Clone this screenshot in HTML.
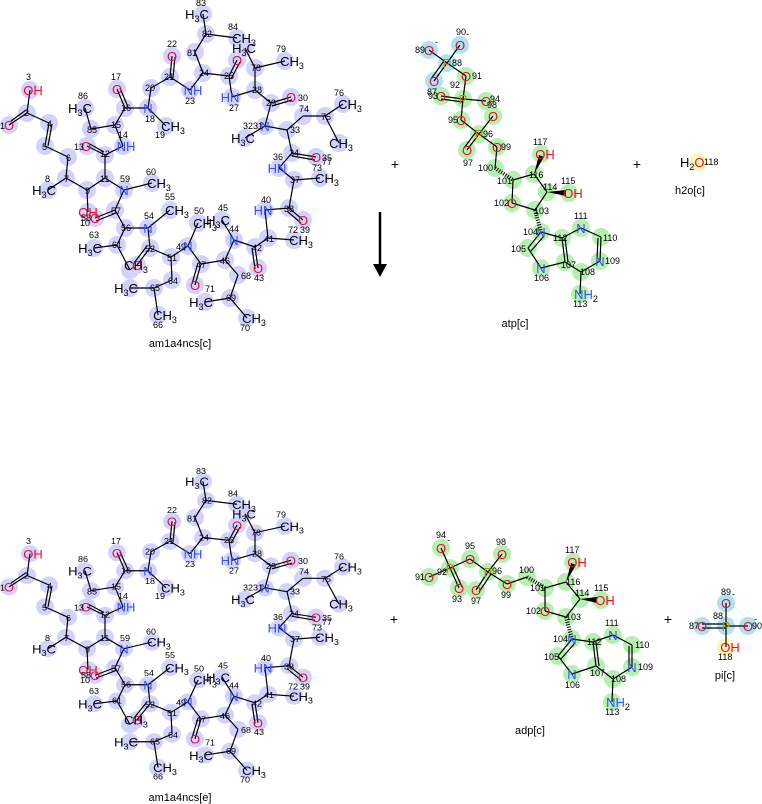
<!DOCTYPE html>
<html><head><meta charset="utf-8">
<style>
html,body{margin:0;padding:0;background:#fff;width:762px;height:804px;overflow:hidden}
svg{display:block}
text{font-family:"Liberation Sans",sans-serif}
.a{font-size:13px;text-anchor:middle}
.n{font-size:9px;fill:#000}
.N{fill:#3050f8}.O{fill:#e8102a}.P{fill:#c08800}.K{fill:#000}
.l{font-size:11px;text-anchor:middle;fill:#000}
</style></head><body>
<svg width="762" height="804" viewBox="0 0 762 804" xmlns="http://www.w3.org/2000/svg">
<g id="mol">
<g fill="#d2d2ff">
<circle cx="9" cy="125" r="9"/><circle cx="27" cy="113" r="9"/><circle cx="30" cy="90" r="9"/><circle cx="49" cy="123" r="9"/><circle cx="45" cy="146" r="9"/><circle cx="68" cy="157" r="9"/><circle cx="66" cy="178" r="9"/><circle cx="48" cy="190" r="9"/><circle cx="87" cy="190" r="9"/><circle cx="88" cy="212" r="9"/><circle cx="105" cy="178" r="9"/><circle cx="105" cy="155" r="9"/><circle cx="87" cy="146" r="9"/><circle cx="123" cy="146" r="9"/><circle cx="115" cy="125" r="9"/><circle cx="125" cy="108" r="9"/><circle cx="117" cy="89" r="9"/><circle cx="148" cy="108" r="9"/><circle cx="166" cy="126" r="9"/><circle cx="151" cy="88" r="9"/><circle cx="170" cy="77" r="9"/><circle cx="172" cy="56" r="9"/><circle cx="190" cy="90" r="9"/><circle cx="203" cy="73" r="9"/><circle cx="229" cy="76" r="9"/><circle cx="237" cy="60" r="9"/><circle cx="232" cy="97" r="9"/><circle cx="255" cy="90" r="9"/><circle cx="271" cy="103" r="9"/><circle cx="291" cy="97" r="9"/><circle cx="265" cy="126" r="9"/><circle cx="245" cy="138" r="9"/><circle cx="287" cy="130" r="9"/><circle cx="292" cy="153" r="9"/><circle cx="316" cy="157" r="9"/><circle cx="279" cy="168" r="9"/><circle cx="294" cy="180" r="9"/><circle cx="289" cy="208" r="9"/><circle cx="303" cy="220" r="9"/><circle cx="265" cy="210" r="9"/><circle cx="268" cy="238" r="9"/><circle cx="255" cy="247" r="9"/><circle cx="258" cy="268" r="9"/><circle cx="234" cy="240" r="9"/><circle cx="222" cy="220" r="9"/><circle cx="225" cy="260" r="9"/><circle cx="201" cy="264" r="9"/><circle cx="195" cy="285" r="9"/><circle cx="188" cy="246" r="9"/><circle cx="198" cy="223" r="9"/><circle cx="171" cy="257" r="9"/><circle cx="150" cy="248" r="9"/><circle cx="137" cy="265" r="9"/><circle cx="148" cy="228" r="9"/><circle cx="170" cy="210" r="9"/><circle cx="125" cy="228" r="9"/><circle cx="115" cy="210" r="9"/><circle cx="95" cy="218" r="9"/><circle cx="124" cy="190" r="9"/><circle cx="152" cy="183" r="9"/><circle cx="117" cy="245" r="9"/><circle cx="130" cy="270" r="9"/><circle cx="94" cy="248" r="9"/><circle cx="130" cy="288" r="9"/><circle cx="154" cy="288" r="9"/><circle cx="172" cy="280" r="9"/><circle cx="158" cy="315" r="9"/><circle cx="238" cy="275" r="9"/><circle cx="230" cy="298" r="9"/><circle cx="247" cy="318" r="9"/><circle cx="205" cy="302" r="9"/><circle cx="294" cy="240" r="9"/><circle cx="320" cy="178" r="9"/><circle cx="303" cy="116" r="9"/><circle cx="325" cy="116" r="9"/><circle cx="343" cy="104" r="9"/><circle cx="339" cy="143" r="9"/><circle cx="255" cy="68" r="9"/><circle cx="285" cy="61" r="9"/><circle cx="245" cy="48" r="9"/><circle cx="195" cy="52" r="9"/><circle cx="206" cy="34" r="9"/><circle cx="203" cy="14" r="9"/><circle cx="237" cy="38" r="9"/><circle cx="91" cy="129" r="9"/><circle cx="85" cy="108" r="9"/>
</g>
<path fill="none" stroke="#000" stroke-width="1.2" d="M9 125L27 113M11 121L26 110M27 113L30 90M27 113L49 123M49 123L45 146M52 124L48 146M45 146L68 157M68 157L66 178M66 178L48 190M66 178L87 190M87 190L88 212M87 190L105 178M105 178L105 155M105 155L87 146M104 152L88 143M105 155L123 146M123 146L115 125M115 125L91 129M91 129L85 108M115 125L125 108M125 108L117 89M128 107L120 88M125 108L148 108M148 108L166 126M148 108L151 88M151 88L170 77M170 77L172 56M173 78L175 57M170 77L190 90M190 90L203 73M203 73L195 52M195 52L206 34M206 34L203 14M206 34L237 38M203 73L229 76M229 76L237 60M231 79L240 62M229 76L232 97M232 97L255 90M255 90L255 68M255 68L245 48M255 68L285 61M255 90L271 103M271 103L291 97M272 106L292 100M271 103L265 126M265 126L245 138M265 126L287 130M287 130L303 116M303 116L325 116M325 116L343 104M325 116L339 143M287 130L292 153M292 153L316 157M292 156L315 160M292 153L279 168M279 168L294 180M294 180L320 178M294 180L289 208M289 208L303 220M287 211L301 223M289 208L265 210M265 210L268 238M268 238L294 240M268 238L255 247M255 247L258 268M252 248L255 269M255 247L234 240M234 240L222 220M234 240L225 260M225 260L238 275M238 275L230 298M230 298L247 318M230 298L205 302M225 260L201 264M201 264L195 285M198 263L192 284M201 264L188 246M188 246L198 223M188 246L171 257M171 257L172 280M172 280L154 288M154 288L158 315M154 288L130 288M171 257L150 248M150 248L137 265M147 246L134 263M150 248L148 228M148 228L170 210M148 228L125 228M125 228L117 245M117 245L94 248M117 245L130 270M125 228L115 210M115 210L95 218M116 213L96 221M115 210L124 190M124 190L152 183M124 190L105 178"/>
<g>
<text class="a O" x="9" y="130">O</text><text class="a O" x="33" y="95">OH</text><text class="a K" x="44" y="195">H<tspan font-size="9" dy="3">3</tspan><tspan dy="-3">C</tspan></text><text class="a O" x="88" y="217">OH</text><text class="a O" x="86" y="151">O</text><text class="a N" x="126" y="151">NH</text><text class="a O" x="117" y="94">O</text><text class="a N" x="148" y="113">N</text><text class="a K" x="173" y="131">CH<tspan font-size="9" dy="3">3</tspan></text><text class="a O" x="172" y="61">O</text><text class="a N" x="193" y="95">NH</text><text class="a O" x="237" y="65">O</text><text class="a N" x="230" y="102">HN</text><text class="a O" x="291" y="102">O</text><text class="a N" x="265" y="131">N</text><text class="a K" x="243" y="143">H<tspan font-size="9" dy="3">3</tspan><tspan dy="-3">C</tspan></text><text class="a O" x="316" y="162">O</text><text class="a N" x="277" y="173">HN</text><text class="a O" x="303" y="225">O</text><text class="a N" x="263" y="215">HN</text><text class="a O" x="258" y="273">O</text><text class="a N" x="234" y="245">N</text><text class="a K" x="218" y="225">H<tspan font-size="9" dy="3">3</tspan><tspan dy="-3">C</tspan></text><text class="a O" x="195" y="290">O</text><text class="a N" x="188" y="251">N</text><text class="a K" x="205" y="228">CH<tspan font-size="9" dy="3">3</tspan></text><text class="a O" x="137" y="270">O</text><text class="a N" x="148" y="233">N</text><text class="a K" x="177" y="215">CH<tspan font-size="9" dy="3">3</tspan></text><text class="a O" x="95" y="223">O</text><text class="a N" x="124" y="195">N</text><text class="a K" x="159" y="188">CH<tspan font-size="9" dy="3">3</tspan></text><text class="a K" x="90" y="253">H<tspan font-size="9" dy="3">3</tspan><tspan dy="-3">C</tspan></text><text class="a K" x="136" y="270">CH<tspan font-size="9" dy="3">3</tspan></text><text class="a K" x="126" y="293">H<tspan font-size="9" dy="3">3</tspan><tspan dy="-3">C</tspan></text><text class="a K" x="165" y="320">CH<tspan font-size="9" dy="3">3</tspan></text><text class="a K" x="254" y="323">CH<tspan font-size="9" dy="3">3</tspan></text><text class="a K" x="201" y="307">H<tspan font-size="9" dy="3">3</tspan><tspan dy="-3">C</tspan></text><text class="a K" x="301" y="245">CH<tspan font-size="9" dy="3">3</tspan></text><text class="a K" x="327" y="183">CH<tspan font-size="9" dy="3">3</tspan></text><text class="a K" x="350" y="109">CH<tspan font-size="9" dy="3">3</tspan></text><text class="a K" x="341" y="148">CH<tspan font-size="9" dy="3">3</tspan></text><text class="a K" x="292" y="66">CH<tspan font-size="9" dy="3">3</tspan></text><text class="a K" x="244" y="53">H<tspan font-size="9" dy="3">3</tspan><tspan dy="-3">C</tspan></text><text class="a K" x="197" y="19">H<tspan font-size="9" dy="3">3</tspan><tspan dy="-3">C</tspan></text><text class="a K" x="244" y="43">CH<tspan font-size="9" dy="3">3</tspan></text><text class="a K" x="80" y="113">H<tspan font-size="9" dy="3">3</tspan><tspan dy="-3">C</tspan></text>
</g>
<g class="n">
<text x="0" y="129">1</text><text x="24" y="116">2</text><text x="26" y="80">3</text><text x="47" y="127">4</text><text x="42" y="150">5</text><text x="66" y="161">6</text><text x="64" y="182">7</text><text x="45" y="182">8</text><text x="85" y="194">9</text><text x="80" y="226">10</text><text x="100" y="182">11</text><text x="100" y="157">12</text><text x="74" y="150">13</text><text x="118" y="138">14</text><text x="111" y="128">15</text><text x="121" y="111">16</text><text x="111" y="80">17</text><text x="145" y="122">18</text><text x="155" y="138">19</text><text x="145" y="91">20</text><text x="164" y="80">21</text><text x="167" y="47">22</text><text x="185" y="104">23</text><text x="199" y="76">24</text><text x="224" y="79">25</text><text x="229" y="111">27</text><text x="252" y="93">28</text><text x="266" y="106">29</text><text x="298" y="101">30</text><text x="243" y="129">3231</text><text x="290" y="133">33</text><text x="289" y="156">34</text><text x="322" y="161">35</text><text x="273" y="160">36</text><text x="290" y="183">37</text><text x="284" y="212">38</text><text x="300" y="233">39</text><text x="261" y="203">40</text><text x="264" y="242">41</text><text x="252" y="251">42</text><text x="254" y="281">43</text><text x="229" y="232">44</text><text x="218" y="211">45</text><text x="220" y="264">46</text><text x="196" y="268">47</text><text x="176" y="250">49</text><text x="194" y="214">50</text><text x="167" y="261">51</text><text x="145" y="252">52</text><text x="144" y="219">54</text><text x="165" y="200">55</text><text x="121" y="231">56</text><text x="111" y="214">57</text><text x="81" y="221">58</text><text x="120" y="182">59</text><text x="146" y="175">60</text><text x="112" y="248">61</text><text x="89" y="238">63</text><text x="150" y="291">65</text><text x="168" y="284">64</text><text x="153" y="328">66</text><text x="241" y="279">68</text><text x="226" y="301">69</text><text x="240" y="331">70</text><text x="205" y="292">71</text><text x="288" y="233">72</text><text x="312" y="171">73</text><text x="299" y="112">74</text><text x="321" y="120">75</text><text x="334" y="96">76</text><text x="322" y="165">77</text><text x="251" y="71">78</text><text x="276" y="52">79</text><text x="187" y="56">81</text><text x="202" y="37">82</text><text x="196" y="6">83</text><text x="228" y="30">84</text><text x="87" y="133">85</text><text x="78" y="99">86</text>
</g>
</g>
<text class="l" x="180" y="347" font-size="11">am1a4ncs[c]</text>

<g transform="matrix(1 0 0 0.95 0 468.15)">
<g fill="#d2d2ff">
<circle cx="9" cy="125" r="9"/><circle cx="27" cy="113" r="9"/><circle cx="30" cy="90" r="9"/><circle cx="49" cy="123" r="9"/><circle cx="45" cy="146" r="9"/><circle cx="68" cy="157" r="9"/><circle cx="66" cy="178" r="9"/><circle cx="48" cy="190" r="9"/><circle cx="87" cy="190" r="9"/><circle cx="88" cy="212" r="9"/><circle cx="105" cy="178" r="9"/><circle cx="105" cy="155" r="9"/><circle cx="87" cy="146" r="9"/><circle cx="123" cy="146" r="9"/><circle cx="115" cy="125" r="9"/><circle cx="125" cy="108" r="9"/><circle cx="117" cy="89" r="9"/><circle cx="148" cy="108" r="9"/><circle cx="166" cy="126" r="9"/><circle cx="151" cy="88" r="9"/><circle cx="170" cy="77" r="9"/><circle cx="172" cy="56" r="9"/><circle cx="190" cy="90" r="9"/><circle cx="203" cy="73" r="9"/><circle cx="229" cy="76" r="9"/><circle cx="237" cy="60" r="9"/><circle cx="232" cy="97" r="9"/><circle cx="255" cy="90" r="9"/><circle cx="271" cy="103" r="9"/><circle cx="291" cy="97" r="9"/><circle cx="265" cy="126" r="9"/><circle cx="245" cy="138" r="9"/><circle cx="287" cy="130" r="9"/><circle cx="292" cy="153" r="9"/><circle cx="316" cy="157" r="9"/><circle cx="279" cy="168" r="9"/><circle cx="294" cy="180" r="9"/><circle cx="289" cy="208" r="9"/><circle cx="303" cy="220" r="9"/><circle cx="265" cy="210" r="9"/><circle cx="268" cy="238" r="9"/><circle cx="255" cy="247" r="9"/><circle cx="258" cy="268" r="9"/><circle cx="234" cy="240" r="9"/><circle cx="222" cy="220" r="9"/><circle cx="225" cy="260" r="9"/><circle cx="201" cy="264" r="9"/><circle cx="195" cy="285" r="9"/><circle cx="188" cy="246" r="9"/><circle cx="198" cy="223" r="9"/><circle cx="171" cy="257" r="9"/><circle cx="150" cy="248" r="9"/><circle cx="137" cy="265" r="9"/><circle cx="148" cy="228" r="9"/><circle cx="170" cy="210" r="9"/><circle cx="125" cy="228" r="9"/><circle cx="115" cy="210" r="9"/><circle cx="95" cy="218" r="9"/><circle cx="124" cy="190" r="9"/><circle cx="152" cy="183" r="9"/><circle cx="117" cy="245" r="9"/><circle cx="130" cy="270" r="9"/><circle cx="94" cy="248" r="9"/><circle cx="130" cy="288" r="9"/><circle cx="154" cy="288" r="9"/><circle cx="172" cy="280" r="9"/><circle cx="158" cy="315" r="9"/><circle cx="238" cy="275" r="9"/><circle cx="230" cy="298" r="9"/><circle cx="247" cy="318" r="9"/><circle cx="205" cy="302" r="9"/><circle cx="294" cy="240" r="9"/><circle cx="320" cy="178" r="9"/><circle cx="303" cy="116" r="9"/><circle cx="325" cy="116" r="9"/><circle cx="343" cy="104" r="9"/><circle cx="339" cy="143" r="9"/><circle cx="255" cy="68" r="9"/><circle cx="285" cy="61" r="9"/><circle cx="245" cy="48" r="9"/><circle cx="195" cy="52" r="9"/><circle cx="206" cy="34" r="9"/><circle cx="203" cy="14" r="9"/><circle cx="237" cy="38" r="9"/><circle cx="91" cy="129" r="9"/><circle cx="85" cy="108" r="9"/>
</g>
<path fill="none" stroke="#000" stroke-width="1.2" d="M9 125L27 113M11 121L26 110M27 113L30 90M27 113L49 123M49 123L45 146M52 124L48 146M45 146L68 157M68 157L66 178M66 178L48 190M66 178L87 190M87 190L88 212M87 190L105 178M105 178L105 155M105 155L87 146M104 152L88 143M105 155L123 146M123 146L115 125M115 125L91 129M91 129L85 108M115 125L125 108M125 108L117 89M128 107L120 88M125 108L148 108M148 108L166 126M148 108L151 88M151 88L170 77M170 77L172 56M173 78L175 57M170 77L190 90M190 90L203 73M203 73L195 52M195 52L206 34M206 34L203 14M206 34L237 38M203 73L229 76M229 76L237 60M231 79L240 62M229 76L232 97M232 97L255 90M255 90L255 68M255 68L245 48M255 68L285 61M255 90L271 103M271 103L291 97M272 106L292 100M271 103L265 126M265 126L245 138M265 126L287 130M287 130L303 116M303 116L325 116M325 116L343 104M325 116L339 143M287 130L292 153M292 153L316 157M292 156L315 160M292 153L279 168M279 168L294 180M294 180L320 178M294 180L289 208M289 208L303 220M287 211L301 223M289 208L265 210M265 210L268 238M268 238L294 240M268 238L255 247M255 247L258 268M252 248L255 269M255 247L234 240M234 240L222 220M234 240L225 260M225 260L238 275M238 275L230 298M230 298L247 318M230 298L205 302M225 260L201 264M201 264L195 285M198 263L192 284M201 264L188 246M188 246L198 223M188 246L171 257M171 257L172 280M172 280L154 288M154 288L158 315M154 288L130 288M171 257L150 248M150 248L137 265M147 246L134 263M150 248L148 228M148 228L170 210M148 228L125 228M125 228L117 245M117 245L94 248M117 245L130 270M125 228L115 210M115 210L95 218M116 213L96 221M115 210L124 190M124 190L152 183M124 190L105 178"/>
<g>
<text class="a O" x="9" y="130">O</text><text class="a O" x="33" y="95">OH</text><text class="a K" x="44" y="195">H<tspan font-size="9" dy="3">3</tspan><tspan dy="-3">C</tspan></text><text class="a O" x="88" y="217">OH</text><text class="a O" x="86" y="151">O</text><text class="a N" x="126" y="151">NH</text><text class="a O" x="117" y="94">O</text><text class="a N" x="148" y="113">N</text><text class="a K" x="173" y="131">CH<tspan font-size="9" dy="3">3</tspan></text><text class="a O" x="172" y="61">O</text><text class="a N" x="193" y="95">NH</text><text class="a O" x="237" y="65">O</text><text class="a N" x="230" y="102">HN</text><text class="a O" x="291" y="102">O</text><text class="a N" x="265" y="131">N</text><text class="a K" x="243" y="143">H<tspan font-size="9" dy="3">3</tspan><tspan dy="-3">C</tspan></text><text class="a O" x="316" y="162">O</text><text class="a N" x="277" y="173">HN</text><text class="a O" x="303" y="225">O</text><text class="a N" x="263" y="215">HN</text><text class="a O" x="258" y="273">O</text><text class="a N" x="234" y="245">N</text><text class="a K" x="218" y="225">H<tspan font-size="9" dy="3">3</tspan><tspan dy="-3">C</tspan></text><text class="a O" x="195" y="290">O</text><text class="a N" x="188" y="251">N</text><text class="a K" x="205" y="228">CH<tspan font-size="9" dy="3">3</tspan></text><text class="a O" x="137" y="270">O</text><text class="a N" x="148" y="233">N</text><text class="a K" x="177" y="215">CH<tspan font-size="9" dy="3">3</tspan></text><text class="a O" x="95" y="223">O</text><text class="a N" x="124" y="195">N</text><text class="a K" x="159" y="188">CH<tspan font-size="9" dy="3">3</tspan></text><text class="a K" x="90" y="253">H<tspan font-size="9" dy="3">3</tspan><tspan dy="-3">C</tspan></text><text class="a K" x="136" y="270">CH<tspan font-size="9" dy="3">3</tspan></text><text class="a K" x="126" y="293">H<tspan font-size="9" dy="3">3</tspan><tspan dy="-3">C</tspan></text><text class="a K" x="165" y="320">CH<tspan font-size="9" dy="3">3</tspan></text><text class="a K" x="254" y="323">CH<tspan font-size="9" dy="3">3</tspan></text><text class="a K" x="201" y="307">H<tspan font-size="9" dy="3">3</tspan><tspan dy="-3">C</tspan></text><text class="a K" x="301" y="245">CH<tspan font-size="9" dy="3">3</tspan></text><text class="a K" x="327" y="183">CH<tspan font-size="9" dy="3">3</tspan></text><text class="a K" x="350" y="109">CH<tspan font-size="9" dy="3">3</tspan></text><text class="a K" x="341" y="148">CH<tspan font-size="9" dy="3">3</tspan></text><text class="a K" x="292" y="66">CH<tspan font-size="9" dy="3">3</tspan></text><text class="a K" x="244" y="53">H<tspan font-size="9" dy="3">3</tspan><tspan dy="-3">C</tspan></text><text class="a K" x="197" y="19">H<tspan font-size="9" dy="3">3</tspan><tspan dy="-3">C</tspan></text><text class="a K" x="244" y="43">CH<tspan font-size="9" dy="3">3</tspan></text><text class="a K" x="80" y="113">H<tspan font-size="9" dy="3">3</tspan><tspan dy="-3">C</tspan></text>
</g>
<g class="n">
<text x="0" y="129">1</text><text x="24" y="116">2</text><text x="26" y="80">3</text><text x="47" y="127">4</text><text x="42" y="150">5</text><text x="66" y="161">6</text><text x="64" y="182">7</text><text x="45" y="182">8</text><text x="85" y="194">9</text><text x="80" y="226">10</text><text x="100" y="182">11</text><text x="100" y="157">12</text><text x="74" y="150">13</text><text x="118" y="138">14</text><text x="111" y="128">15</text><text x="121" y="111">16</text><text x="111" y="80">17</text><text x="145" y="122">18</text><text x="155" y="138">19</text><text x="145" y="91">20</text><text x="164" y="80">21</text><text x="167" y="47">22</text><text x="185" y="104">23</text><text x="199" y="76">24</text><text x="224" y="79">25</text><text x="229" y="111">27</text><text x="252" y="93">28</text><text x="266" y="106">29</text><text x="298" y="101">30</text><text x="243" y="129">3231</text><text x="290" y="133">33</text><text x="289" y="156">34</text><text x="322" y="161">35</text><text x="273" y="160">36</text><text x="290" y="183">37</text><text x="284" y="212">38</text><text x="300" y="233">39</text><text x="261" y="203">40</text><text x="264" y="242">41</text><text x="252" y="251">42</text><text x="254" y="281">43</text><text x="229" y="232">44</text><text x="218" y="211">45</text><text x="220" y="264">46</text><text x="196" y="268">47</text><text x="176" y="250">49</text><text x="194" y="214">50</text><text x="167" y="261">51</text><text x="145" y="252">52</text><text x="144" y="219">54</text><text x="165" y="200">55</text><text x="121" y="231">56</text><text x="111" y="214">57</text><text x="81" y="221">58</text><text x="120" y="182">59</text><text x="146" y="175">60</text><text x="112" y="248">61</text><text x="89" y="238">63</text><text x="150" y="291">65</text><text x="168" y="284">64</text><text x="153" y="328">66</text><text x="241" y="279">68</text><text x="226" y="301">69</text><text x="240" y="331">70</text><text x="205" y="292">71</text><text x="288" y="233">72</text><text x="312" y="171">73</text><text x="299" y="112">74</text><text x="321" y="120">75</text><text x="334" y="96">76</text><text x="322" y="165">77</text><text x="251" y="71">78</text><text x="276" y="52">79</text><text x="187" y="56">81</text><text x="202" y="37">82</text><text x="196" y="6">83</text><text x="228" y="30">84</text><text x="87" y="133">85</text><text x="78" y="99">86</text>
</g>
</g>
<text class="l" x="180" y="801">am1a4ncs[e]</text>

<line x1="380" y1="212" x2="380" y2="268" stroke="#000" stroke-width="2.5"/>
<polygon points="373,264 387,264 380,277" fill="#000"/>
<g font-size="14" text-anchor="middle" font-family="Liberation Sans,sans-serif">
<text x="395" y="169">+</text><text x="637" y="169">+</text><text x="394" y="624">+</text><text x="668" y="624">+</text>
</g>

<g fill="#ace3f5"><circle cx="429" cy="50" r="9"/><circle cx="460" cy="45" r="9"/><circle cx="447" cy="63" r="9"/><circle cx="434" cy="81" r="9"/></g>
<g fill="#b6f0b0"><circle cx="466" cy="76" r="9"/><circle cx="463" cy="99" r="9"/><circle cx="441" cy="96" r="9"/><circle cx="486" cy="101" r="9"/><circle cx="461" cy="120" r="9"/><circle cx="493" cy="116" r="9"/><circle cx="479" cy="134" r="9"/><circle cx="467" cy="150" r="9"/><circle cx="497" cy="147" r="9"/><circle cx="495" cy="168" r="9"/><circle cx="513" cy="180" r="9"/><circle cx="512" cy="203" r="9"/><circle cx="535" cy="210" r="9"/><circle cx="547" cy="192" r="9"/><circle cx="534" cy="174" r="9"/><circle cx="541" cy="154" r="9"/><circle cx="569" cy="193" r="9"/><circle cx="541" cy="232" r="9"/><circle cx="528" cy="248" r="9"/><circle cx="541" cy="268" r="9"/><circle cx="565" cy="262" r="9"/><circle cx="562" cy="238" r="9"/><circle cx="581" cy="228" r="9"/><circle cx="601" cy="237" r="9"/><circle cx="600" cy="261" r="9"/><circle cx="581" cy="272" r="9"/><circle cx="580" cy="294" r="9"/></g>
<path fill="none" stroke="#000" stroke-width="1.2" d="M429 50L447 63M460 45L447 63M447 63L434 81M444 61L431 79M447 63L466 76M466 76L463 99M463 99L441 96M463 102L441 99M463 99L486 101M463 99L461 120M461 120L479 134M479 134L493 116M479 134L467 150M476 132L464 148M479 134L497 147M497 147L495 168M513 180L512 203M512 203L535 210M535 210L547 192M547 192L534 174M534 174L513 180M541 232L528 248M544 236L531 251M528 248L541 268M541 268L565 262M565 262L562 238M568 262L565 238M562 238L541 232M562 238L581 228M581 228L601 237M601 237L600 261M598 238L597 259M600 261L581 272M581 272L565 262M581 272L580 294"/>
<path d="M495 168L513 180" stroke="#000" stroke-width="4" stroke-dasharray="1 1.5" fill="none"/>
<path d="M535 210L541 232" stroke="#000" stroke-width="4" stroke-dasharray="1 1.5" fill="none"/>
<polygon points="534,174 539,155 544,157" fill="#000"/>
<polygon points="547,192 566,190 566,196" fill="#000"/>
<g class="a">
<text class="O" x="429" y="55">O</text><text class="O" x="460" y="50">O</text><text class="P" x="447" y="68">P</text><text class="O" x="434" y="86">O</text><text class="O" x="466" y="81">O</text><text class="P" x="463" y="104">P</text><text class="O" x="441" y="101">O</text><text class="O" x="486" y="106">O</text><text class="O" x="461" y="125">O</text><text class="O" x="493" y="121">O</text><text class="P" x="479" y="139">P</text><text class="O" x="467" y="155">O</text><text class="O" x="497" y="152">O</text><text class="O" x="512" y="208">O</text><text class="O" x="545" y="159">OH</text><text class="O" x="573" y="198">OH</text><text class="N" x="541" y="237">N</text><text class="N" x="541" y="273">N</text><text class="N" x="581" y="233">N</text><text class="N" x="600" y="266">N</text><text class="N" x="586" y="299">NH<tspan font-size="9" dy="3" fill="#000">2</tspan></text>
</g>
<g class="n">
<text x="415" y="53">89</text><text x="435" y="45">-</text><text x="456" y="35">90</text><text x="466" y="37">-</text><text x="452" y="66">88</text><text x="427" y="95">87</text><text x="472" y="79">91</text><text x="450" y="88">92</text><text x="428" y="99">93</text><text x="490" y="102">94</text><text x="487" y="108">98</text><text x="448" y="123">95</text><text x="483" y="137">96</text><text x="463" y="166">97</text><text x="501" y="150">99</text><text x="478" y="171">100</text><text x="497" y="184">101</text><text x="494" y="206">102</text><text x="534" y="214">103</text><text x="543" y="190">114</text><text x="529" y="178">116</text><text x="533" y="145">117</text><text x="561" y="184">115</text><text x="523" y="235">104</text><text x="511" y="252">105</text><text x="534" y="281">106</text><text x="561" y="268">107</text><text x="553" y="241">112</text><text x="574" y="219">111</text><text x="603" y="241">110</text><text x="605" y="264">109</text><text x="580" y="275">108</text><text x="573" y="307">113</text>
</g>
<text class="l" x="515" y="327">atp[c]</text>

<circle cx="698" cy="162" r="9" fill="#fbf7b8"/>
<text x="680" y="167" font-size="13">H<tspan font-size="9" dy="3">2</tspan><tspan dy="-3" class="O">O</tspan></text>
<text class="n" x="704" y="165">118</text>
<text class="l" x="690" y="194">h2o[c]</text>

<g fill="#b6f0b0"><circle cx="441" cy="548" r="9"/><circle cx="450" cy="568" r="9"/><circle cx="429" cy="577" r="9"/><circle cx="459" cy="588" r="9"/><circle cx="470" cy="559" r="9"/><circle cx="488" cy="572" r="9"/><circle cx="502" cy="554" r="9"/><circle cx="476" cy="590" r="9"/><circle cx="507" cy="584" r="9"/><circle cx="527" cy="577" r="9"/><circle cx="545" cy="588" r="9"/><circle cx="545" cy="611" r="9"/><circle cx="566" cy="617" r="9"/><circle cx="580" cy="599" r="9"/><circle cx="566" cy="582" r="9"/><circle cx="573" cy="562" r="9"/><circle cx="601" cy="600" r="9"/><circle cx="572" cy="639" r="9"/><circle cx="558" cy="656" r="9"/><circle cx="572" cy="674" r="9"/><circle cx="596" cy="666" r="9"/><circle cx="593" cy="642" r="9"/><circle cx="613" cy="635" r="9"/><circle cx="632" cy="645" r="9"/><circle cx="632" cy="667" r="9"/><circle cx="613" cy="679" r="9"/><circle cx="612" cy="702" r="9"/></g>
<path fill="none" stroke="#000" stroke-width="1.2" d="M441 548L450 568M429 577L450 568M450 568L459 588M453 567L462 587M450 568L470 559M470 559L488 572M488 572L502 554M488 572L476 590M491 574L479 592M488 572L507 584M507 584L527 577M545 588L545 611M545 611L566 617M566 617L580 599M580 599L566 582M566 582L545 588M572 639L558 656M575 643L561 659M558 656L572 674M572 674L596 666M596 666L593 642M599 666L596 642M593 642L572 639M593 642L613 635M613 635L632 645M632 645L632 667M629 646L629 666M632 667L613 679M613 679L596 666M613 679L612 702"/>
<path d="M527 577L545 588" stroke="#000" stroke-width="4" stroke-dasharray="1 1.5" fill="none"/>
<path d="M566 617L572 639" stroke="#000" stroke-width="4" stroke-dasharray="1 1.5" fill="none"/>
<polygon points="566,582 571,563 576,565" fill="#000"/>
<polygon points="580,599 597,597 597,603" fill="#000"/>
<g class="a">
<text class="O" x="441" y="553">O</text><text class="P" x="450" y="573">P</text><text class="O" x="429" y="582">O</text><text class="O" x="459" y="593">O</text><text class="O" x="470" y="564">O</text><text class="P" x="488" y="577">P</text><text class="O" x="502" y="559">O</text><text class="O" x="476" y="595">O</text><text class="O" x="507" y="589">O</text><text class="O" x="545" y="616">O</text><text class="O" x="577" y="567">OH</text><text class="O" x="605" y="605">OH</text><text class="N" x="572" y="644">N</text><text class="N" x="572" y="679">N</text><text class="N" x="613" y="640">N</text><text class="N" x="632" y="672">N</text><text class="N" x="618" y="707">NH<tspan font-size="9" dy="3" fill="#000">2</tspan></text>
</g>
<g class="n">
<text x="436" y="538">94</text><text x="447" y="543">-</text><text x="437" y="575">92</text><text x="415" y="580">91</text><text x="452" y="602">93</text><text x="465" y="549">95</text><text x="496" y="545">98</text><text x="492" y="574">96</text><text x="471" y="604">97</text><text x="501" y="598">99</text><text x="519" y="573">100</text><text x="530" y="591">101</text><text x="526" y="614">102</text><text x="566" y="620">103</text><text x="575" y="596">114</text><text x="566" y="585">116</text><text x="565" y="553">117</text><text x="594" y="591">115</text><text x="553" y="642">104</text><text x="544" y="660">105</text><text x="565" y="688">106</text><text x="590" y="676">107</text><text x="587" y="645">112</text><text x="605" y="626">111</text><text x="635" y="648">110</text><text x="638" y="670">109</text><text x="611" y="682">108</text><text x="605" y="715">113</text>
</g>
<text class="l" x="530" y="734">adp[c]</text>

<g fill="#ace3f5"><circle cx="726" cy="603" r="9"/><circle cx="726" cy="626" r="9"/><circle cx="702" cy="626" r="9"/><circle cx="748" cy="626" r="9"/></g>
<circle cx="726" cy="647" r="9" fill="#fbf7b8"/>
<path fill="none" stroke="#000" stroke-width="1.2" d="M726 603L726 626M702 624L726 624M702 628L726 628M726 626L748 626M726 626L726 647"/>
<g class="a">
<text class="O" x="726" y="608">O</text><text class="P" x="726" y="631">P</text><text class="O" x="702" y="631">O</text><text class="O" x="748" y="631">O</text><text class="O" x="730" y="652">OH</text>
</g>
<g class="n"><text x="721" y="595">89</text><text x="732" y="597">-</text><text x="713" y="619">88</text><text x="689" y="629">87</text><text x="752" y="629">90</text><text x="754" y="622">-</text><text x="718" y="660">118</text></g>
<text class="l" x="725" y="679">pi[c]</text>
</svg>
</body></html>
